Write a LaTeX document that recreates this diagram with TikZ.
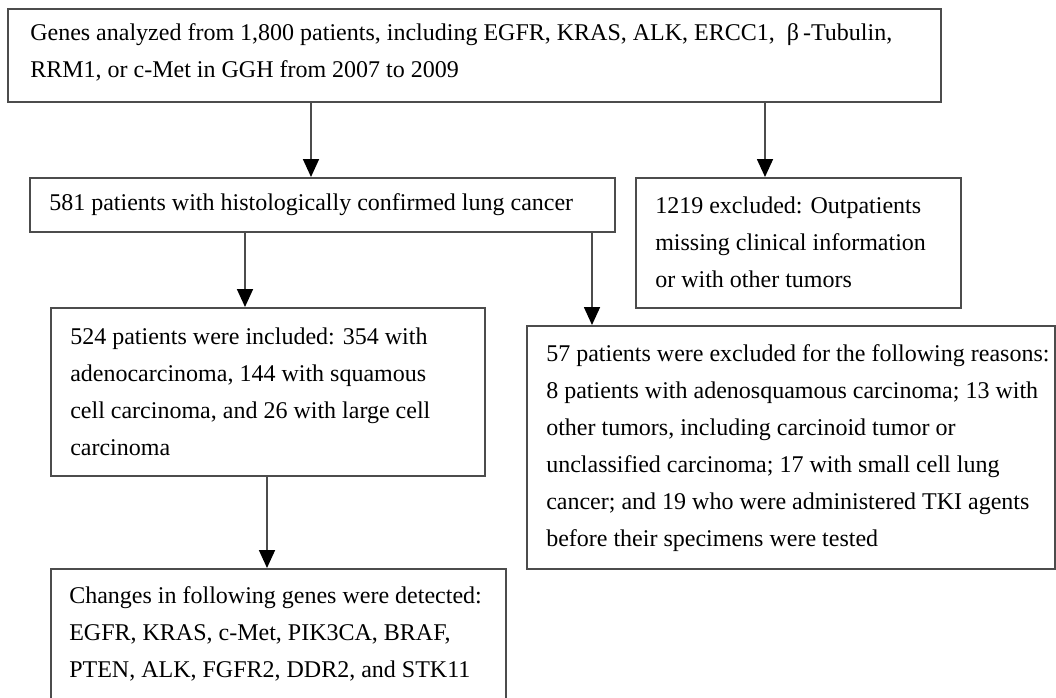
\documentclass[tikz,border=0pt]{standalone}
\usepackage{fontspec}
\setmainfont{Liberation Serif}
\usetikzlibrary{arrows.meta}

\tikzset{
  box/.style={draw=black!70, line width=1.3pt, anchor=north west, inner sep=0pt},
  txt/.style={anchor=west, align=left, inner sep=0pt, font=\fontsize{18}{27.75}\selectfont},
  arrow/.style={draw=black!70, line width=1.3pt, -{Triangle[width=12pt,length=13.5pt,black]}}
}

\begin{document}
\begin{tikzpicture}[x=0.75pt,y=0.75pt,yscale=-1,xscale=1]
\useasboundingbox (0,0) rectangle (1056,697);

% Box
\node[box, minimum width=699.75pt, minimum height=69.75pt] (genes) at (7,8) {};
% Box
\node[box, minimum width=438.75pt, minimum height=40.5pt] (lung) at (29,177) {};
% Box
\node[box, minimum width=243.75pt, minimum height=97.5pt] (outpt) at (635,177) {};
% Box
\node[box, minimum width=325.5pt, minimum height=126pt] (incl) at (50,307) {};
% Box
\node[box, minimum width=396pt, minimum height=182.25pt] (excl) at (526,325) {};
% Box
\node[box, minimum width=341.25pt, minimum height=99pt] (detect) at (50,568) {};

% Text Node
\node[txt] (genestxt) at (30,52) {Genes analyzed from 1,800 patients, including EGFR, KRAS, ALK, ERCC1,\ \ β\,-Tubulin,\\RRM1, or c-Met in GGH from 2007 to 2009};
% Text Node
\node[txt] (lungtxt) at (49,205) {581 patients with histologically confirmed lung cancer};
% Text Node
\node[txt] (outpttxt) at (655,242) {1219 excluded: Outpatients\\missing clinical information\\or with other tumors};
% Text Node
\node[txt] (incltxt) at (70,392) {524 patients were included: 354 with\\adenocarcinoma, 144 with squamous\\cell carcinoma, and 26 with large cell\\carcinoma};
% Text Node
\node[txt] (excltxt) at (546,448) {57 patients were excluded for the following reasons:\\8 patients with adenosquamous carcinoma; 13 with\\other tumors, including carcinoid tumor or\\unclassified carcinoma; 17 with small cell lung\\cancer; and 19 who were administered TKI agents\\before their specimens were tested};
% Text Node
\node[txt] (detecttxt) at (69,634) {Changes in following genes were detected:\\EGFR, KRAS, c-Met, PIK3CA, BRAF,\\PTEN, ALK, FGFR2, DDR2, and STK11};

% Connection
\draw[arrow] (311,0 |- genes.south) -- (311,0 |- lung.north);
% Connection
\draw[arrow] (765,0 |- genes.south) -- (765,0 |- outpt.north);
% Connection
\draw[arrow] (245,0 |- lung.south) -- (245,0 |- incl.north);
% Connection
\draw[arrow] (592,0 |- lung.south) -- (592,0 |- excl.north);
% Connection
\draw[arrow] (267,0 |- incl.south) -- (267,0 |- detect.north);

\end{tikzpicture}
\end{document}
